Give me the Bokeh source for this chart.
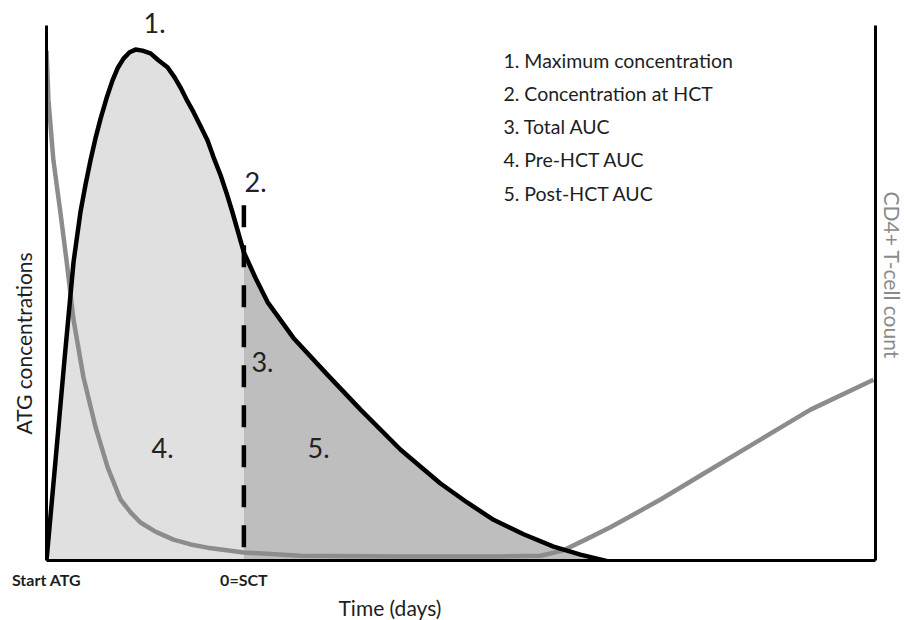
from bokeh.plotting import figure
from bokeh.models import Range1d, LinearAxis, FixedTicker, Label, Title
from bokeh.embed import file_html
from bokeh.resources import INLINE

# ---- data (time in days relative to stem-cell transplant, SCT = day 0) ----
atg_days = [-10.0, -9.54, -9.09, -8.63, -8.28, -8.02, -7.77, -7.52, -7.26, -6.96,
            -6.66, -6.40, -6.10, -5.79, -5.49, -5.14, -4.73, -4.33, -3.87, -3.51,
            -3.21, -2.91, -2.55, -2.20, -1.84, -1.54, -1.18, -0.88, -0.58, 0.0,
            0.59, 1.20, 2.51, 4.24, 5.91, 7.94, 9.96, 11.33, 12.65, 14.17,
            15.69, 17.05, 18.73]
atg_conc = [0.0, 18.8, 37.5, 55.8, 65.1, 70.3, 74.8, 78.9, 82.6, 86.4,
            89.7, 92.0, 93.8, 95.0, 95.5, 95.3, 94.8, 93.5, 92.2, 90.3,
            88.4, 86.2, 83.8, 81.2, 78.5, 75.4, 72.0, 68.7, 65.1, 57.6,
            52.8, 48.3, 41.6, 34.7, 28.2, 20.7, 14.4, 10.8, 7.6, 4.9,
            2.6, 1.1, -0.4]

cd4_days = [-10.0, -9.90, -9.65, -9.29, -8.99, -8.63, -8.13, -7.52, -6.91, -6.25,
            -5.74, -5.24, -4.48, -3.57, -2.70, -1.84, 0.0, 2.87, 7.94, 13.0,
            15.03, 16.19, 17.31, 18.57, 19.84, 21.11, 23.64, 26.17, 28.71, 31.90]
cd4_count = [95.3, 86.0, 74.8, 64.9, 56.2, 45.0, 34.3, 25.0, 17.5, 11.4,
             9.0, 7.1, 5.4, 3.9, 3.0, 2.4, 1.5, 0.9, 0.75, 0.75,
             0.9, 1.9, 3.9, 6.2, 8.8, 11.4, 17.0, 22.6, 28.2, 33.8]

sct_day = 0.0
hct_marker_top = 66.4

tick_days = [-10, 0]
tick_labels = ["Start ATG", "0=SCT"]

legend_items = ["1. Maximum concentration", "2. Concentration at HCT",
                "3. Total AUC", "4. Pre-HCT AUC", "5. Post-HCT AUC"]

FONT = "Lato"
DARK = "#1e1e1e"

p = figure(width=908, height=620, output_backend="svg", toolbar_location=None,
           x_range=Range1d(-10, 32), y_range=Range1d(0, 100),
           min_border_left=46, min_border_right=33, min_border_top=25,
           min_border_bottom=59)
p.outline_line_color = None
p.xgrid.visible = False
p.ygrid.visible = False
p.background_fill_color = "white"
p.border_fill_color = "white"

# axes
xa = p.xaxis[0]
xa.ticker = FixedTicker(ticks=tick_days)
xa.major_label_overrides = {t: l for t, l in zip(tick_days, tick_labels)}
xa.major_tick_line_color = None
xa.minor_tick_line_color = None
xa.major_tick_out = 0
xa.major_label_standoff = 9
xa.major_label_text_font = FONT
xa.major_label_text_font_size = "16px"
xa.major_label_text_font_style = "bold"
xa.major_label_text_color = DARK
xa.axis_line_width = 3
xa.axis_line_color = "black"

ya = p.yaxis[0]
ya.ticker = FixedTicker(ticks=[])
ya.major_tick_line_color = None
ya.minor_tick_line_color = None
ya.axis_line_width = 3
ya.axis_line_color = "black"

ra = LinearAxis(ticker=FixedTicker(ticks=[]))
ra.major_tick_line_color = None
ra.minor_tick_line_color = None
ra.axis_line_width = 3
ra.axis_line_color = "black"
p.add_layout(ra, "right")

# fills: pre-HCT (light) and post-HCT (dark)
n0 = atg_days.index(sct_day)
p.varea(x=atg_days[:n0 + 1], y1=[0] * (n0 + 1), y2=atg_conc[:n0 + 1],
        fill_color="#e0e0e0")
p.varea(x=atg_days[n0:], y1=[0] * (len(atg_days) - n0), y2=atg_conc[n0:],
        fill_color="#bebebf")

# CD4+ T-cell curve
p.line(cd4_days, cd4_count, line_color="#8c8c8c", line_width=4.5,
       line_join="round")

# HCT marker
p.segment(x0=[sct_day], y0=[hct_marker_top], x1=[sct_day], y1=[0],
          line_color="black", line_width=4.5, line_dash="22 18")

# ATG concentration curve
p.line(atg_days, atg_conc, line_color="black", line_width=4.5,
       line_join="round")

# numbered annotations inside the plot
nums = [("2.", 0.59, 70.7), ("3.", 0.94, 37.1),
        ("4.", -4.12, 21.1), ("5.", 3.78, 21.1)]
for t, x, y in nums:
    p.add_layout(Label(x=x, y=y, text=t, text_font=FONT, text_font_size="27px",
                       text_align="center", text_baseline="middle",
                       text_color="#222222"))

# "1." above the peak (sits in the top border)
p.add_layout(Title(text="1.", align="left", offset=97, standoff=-14,
                   text_font=FONT, text_font_size="27px",
                   text_font_style="normal", text_color="#222222"), "above")

# legend text
for i, t in enumerate(legend_items):
    p.add_layout(Label(x=13.15, y=93.5 - i * 6.21, text=t, text_font=FONT,
                       text_font_size="19.5px", text_align="left",
                       text_baseline="middle", text_color=DARK))

# axis titles
p.add_layout(Title(text="ATG concentrations", align="left", offset=126,
                   vertical_align="top", standoff=17, text_font=FONT,
                   text_font_size="21px", text_font_style="normal",
                   text_color=DARK), "left")
p.add_layout(Title(text="CD4+ T-cell count", align="left", offset=166,
                   vertical_align="top", standoff=5, text_font=FONT,
                   text_font_size="21px", text_font_style="normal",
                   text_color="#8a8a8a"), "right")
p.add_layout(Title(text="Time (days)", align="left", offset=292,
                   standoff=2, text_font=FONT, text_font_size="21px",
                   text_font_style="normal", text_color=DARK), "below")

open("out.html", "w").write(file_html(p, INLINE))
